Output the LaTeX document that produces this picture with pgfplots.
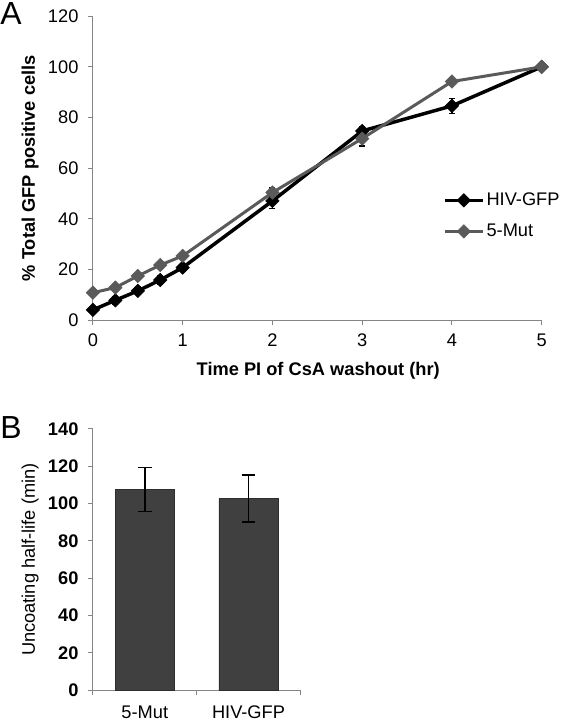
\documentclass[border=0pt]{standalone}
\usepackage{fontspec}
\setmainfont{Liberation Sans}
\usepackage{pgfplots}
\pgfplotsset{compat=1.18}
\definecolor{mutgray}{HTML}{5A5A5A}
\definecolor{bargray}{HTML}{404040}
\definecolor{axgray}{HTML}{858585}
\newcommand{\fs}{\fontsize{18.3}{21}\selectfont}
\begin{document}
\begin{tikzpicture}
\draw[white] (0pt,0pt) rectangle (566pt,722pt);
\node[anchor=north west, inner sep=0pt, font=\fontsize{32}{32}\selectfont] at (0pt,720pt) {A};
\node[anchor=north west, inner sep=0pt, font=\fontsize{32}{32}\selectfont] at (0pt,305pt) {B};
\begin{axis}[
  at={(93pt,401pt)}, anchor=south west,
  scale only axis, width=450pt, height=305pt,
  xmin=0, xmax=5, ymin=0, ymax=120,
  axis x line*=bottom, axis y line*=left,
  axis line style={axgray, line width=1pt, -},
  xtick={0,1,2,3,4,5}, ytick={0,20,40,60,80,100,120},
  tick align=outside, major tick length=5pt,
  tick style={axgray, line width=1pt},
  tick label style={font=\fs, black},
  xticklabel style={yshift=-5pt},
  yticklabel style={xshift=-6pt},
  /pgf/number format/assume math mode=true,
  xlabel={\bfseries Time PI of CsA washout (hr)},
  ylabel={\bfseries \% Total GFP positive cells},
  label style={font=\fs},
  x label style={at={(axis description cs:0.502,-0.167)}, anchor=center},
  y label style={at={(axis description cs:-0.14,0.5)}, anchor=center},
  legend style={at={(axis description cs:0.78,0.425)}, anchor=north west, draw=none, fill=none, font=\fs, row sep=13pt, inner sep=0pt},
  legend cell align=left,
  legend image code/.code={\draw[mark repeat=2, mark phase=2, #1] plot coordinates {(0pt,0pt) (19pt,0pt) (38pt,0pt)};},
  clip=false,
]
\addplot[black, line width=3.5pt, mark=square*, mark size=4.8pt,
  mark options={rotate=45, solid, line width=0.5pt},
  error bars/.cd, y dir=both, y explicit,
  error bar style={line width=1.5pt, black},
  error mark options={rotate=90, mark size=3pt, line width=1.5pt, black}]
coordinates {
(0,4.1) +- (0,0.8)
(0.25,7.9) +- (0,1.5)
(0.5,11.6) +- (0,1.5)
(0.75,15.9) +- (0,1.5)
(1,20.8) +- (0,1.0)
(2,47.1) +- (0,3.0)
(3,74.7) +- (0,1.5)
(4,84.6) +- (0,3.0)
(5,100) +- (0,0)
};
\addlegendentry{HIV-GFP}
\addplot[mutgray, line width=3pt, mark=square*, mark size=4.8pt,
  mark options={rotate=45, solid, line width=0.5pt},
  error bars/.cd, y dir=both, y explicit,
  error bar style={line width=1.5pt, black},
  error mark options={rotate=90, mark size=3pt, line width=1.5pt, black}]
coordinates {
(0,10.9) +- (0,0.5)
(0.25,12.9) +- (0,0.8)
(0.5,17.5) +- (0,0.8)
(0.75,21.8) +- (0,0.8)
(1,25.4) +- (0,0.8)
(2,50.4) +- (0,1.8)
(3,71.7) +- (0,3.0)
(4,94.2) +- (0,1.0)
(5,100) +- (0,0)
};
\addlegendentry{5-Mut}
\end{axis}
\begin{axis}[
  at={(93pt,30pt)}, anchor=south west,
  scale only axis, width=208pt, height=262pt,
  xmin=0, xmax=2, ymin=0, ymax=140,
  axis x line*=bottom, axis y line*=left,
  axis line style={axgray, line width=1pt, -},
  ytick={0,20,40,60,80,100,120,140},
  xtick={0.5,1.5}, xticklabels={5-Mut,HIV-GFP},
  minor xtick={0,1,2},
  tick align=outside, major tick length=5pt, minor tick length=5pt,
  tick style={axgray, line width=1pt},
  major x tick style={draw=none},
  tick label style={font=\fs, black},
  xticklabel style={yshift=-7pt},
  yticklabel style={font=\fs\bfseries, xshift=-6pt},
  /pgf/number format/assume math mode=true,
  ylabel={Uncoating half-life (min)},
  label style={font=\fs},
  y label style={at={(axis description cs:-0.303,0.5)}, anchor=center},
  clip=false,
]
\addplot[ybar, bar width=0.57, bar shift=0, fill=bargray, draw=bargray!70!black, line width=0.6pt,
  error bars/.cd, y dir=both, y explicit,
  error bar style={line width=1.6pt, black},
  error mark options={rotate=90, mark size=7pt, line width=1.6pt, black}]
coordinates {
(0.5,107.5) +- (0,11.8)
(1.5,102.7) +- (0,12.5)
};
\end{axis}
\end{tikzpicture}
\end{document}
